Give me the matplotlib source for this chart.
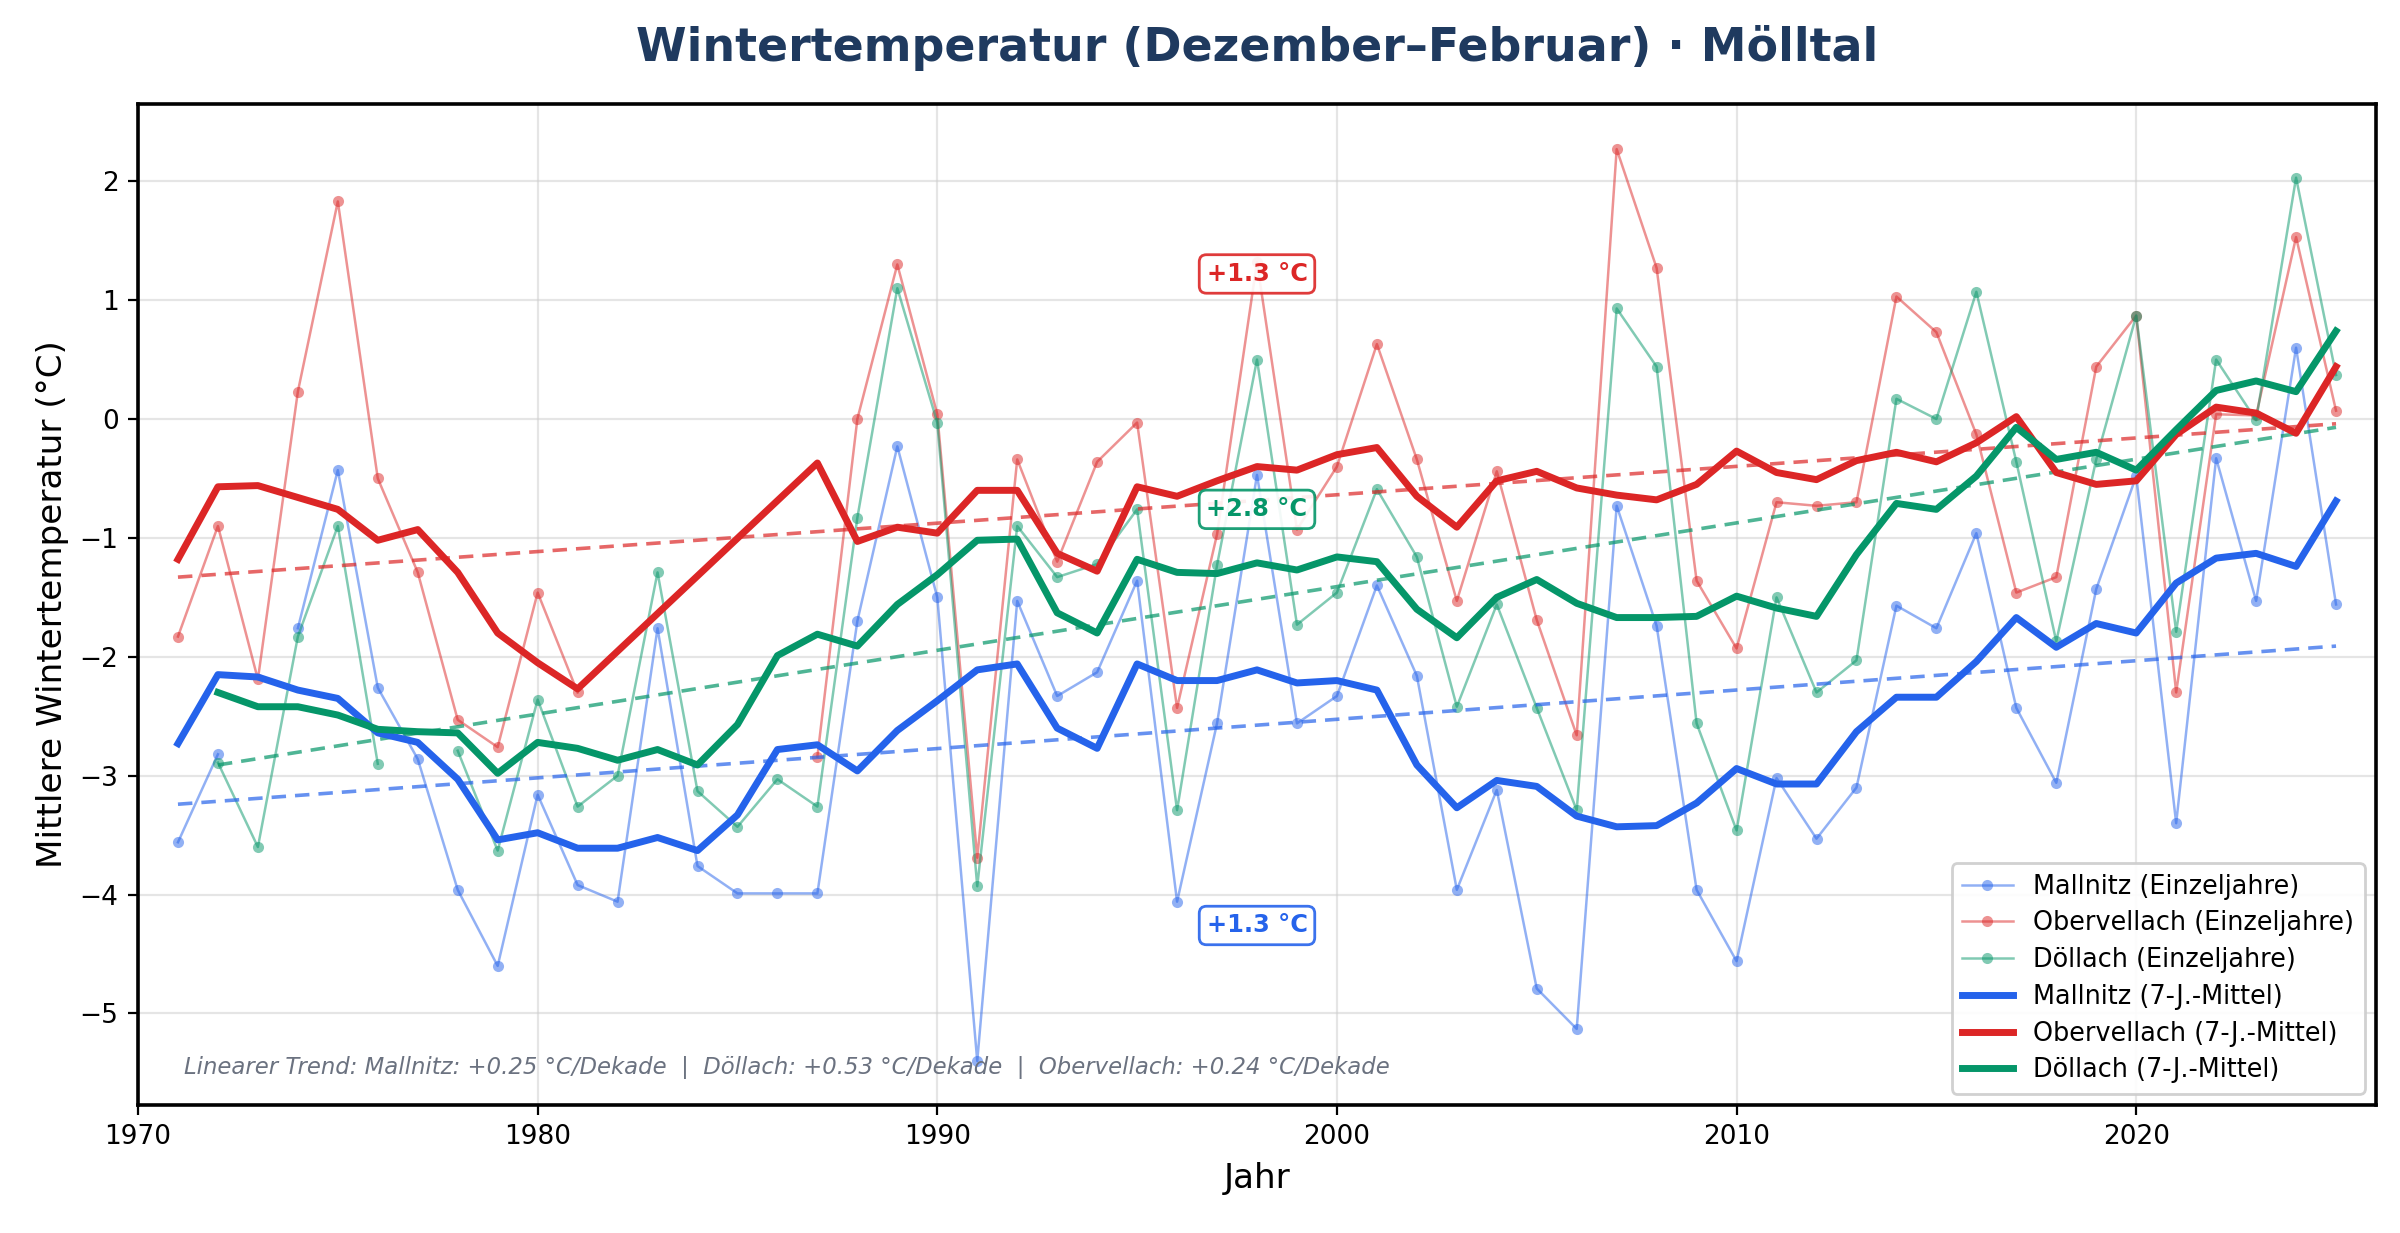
import numpy as np
import matplotlib
matplotlib.use("Agg")
import matplotlib.pyplot as plt

nan = np.nan
years = list(range(1971, 2026))

# Einzeljahre (Dez-Feb Mittel)
mallnitz = [-3.56, -2.82, nan, -1.76, -0.43, -2.26, -2.86, -3.96, -4.60, -3.16,
            -3.92, -4.06, -1.76, -3.76, -3.99, -3.99, -3.99, -1.70, -0.23, -1.50,
            -5.40, -1.53, -2.33, -2.13, -1.36, -4.06, -2.56, -0.47, -2.56, -2.33,
            -1.40, -2.16, -3.96, -3.12, -4.79, -5.13, -0.73, -1.74, -3.96, -4.56,
            -3.02, -3.53, -3.10, -1.57, -1.76, -0.96, -2.43, -3.06, -1.43, -0.48,
            -3.40, -0.33, -1.53, 0.60, -1.56]
obervellach = [-1.83, -0.90, -2.19, 0.23, 1.83, -0.50, -1.29, -2.53, -2.76, -1.46,
               -2.30, nan, nan, nan, nan, nan, -2.84, 0.00, 1.30, 0.04,
               -3.69, -0.34, -1.20, -0.36, -0.03, -2.43, -0.97, 1.32, -0.93, -0.40,
               0.63, -0.34, -1.53, -0.44, -1.69, -2.66, 2.27, 1.27, -1.36, -1.93,
               -0.70, -0.73, -0.70, 1.03, 0.73, -0.13, -1.46, -1.33, 0.44, 0.87,
               -2.30, 0.04, 0.03, 1.53, 0.07]
doellach = [nan, -2.89, -3.60, -1.83, -0.90, -2.90, nan, -2.79, -3.63, -2.36,
            -3.26, -3.00, -1.29, -3.13, -3.43, -3.03, -3.26, -0.83, 1.10, -0.03,
            -3.93, -0.90, -1.33, -1.22, -0.76, -3.29, -1.23, 0.50, -1.73, -1.46,
            -0.59, -1.16, -2.42, -1.56, -2.43, -3.29, 0.93, 0.44, -2.56, -3.46,
            -1.50, -2.30, -2.03, 0.17, 0.00, 1.07, -0.36, -1.87, -0.34, 0.87,
            -1.79, 0.50, -0.01, 2.03, 0.37]

# 7-jaehriges gleitendes Mittel
mallnitz_7j = [-2.73, -2.15, -2.17, -2.28, -2.35, -2.64, -2.72, -3.03, -3.54, -3.48,
               -3.61, -3.61, -3.52, -3.63, -3.33, -2.78, -2.74, -2.96, -2.62, -2.37,
               -2.11, -2.06, -2.60, -2.77, -2.06, -2.20, -2.20, -2.11, -2.22, -2.20,
               -2.28, -2.91, -3.27, -3.04, -3.09, -3.34, -3.43, -3.42, -3.23, -2.94,
               -3.07, -3.07, -2.63, -2.34, -2.34, -2.04, -1.67, -1.92, -1.72, -1.80,
               -1.38, -1.17, -1.13, -1.24, -0.69]
obervellach_7j = [-1.18, -0.57, -0.56, -0.66, -0.76, -1.02, -0.93, -1.29, -1.80, -2.05,
                  -2.27, nan, nan, nan, nan, nan, -0.37, -1.03, -0.91, -0.96,
                  -0.60, -0.60, -1.13, -1.28, -0.57, -0.65, -0.52, -0.40, -0.43, -0.30,
                  -0.24, -0.65, -0.91, -0.52, -0.44, -0.58, -0.64, -0.68, -0.55, -0.27,
                  -0.45, -0.51, -0.35, -0.28, -0.36, -0.20, 0.02, -0.45, -0.55, -0.52,
                  -0.13, 0.10, 0.05, -0.12, 0.44]
doellach_7j = [nan, -2.30, -2.42, -2.42, -2.49, -2.61, -2.63, -2.64, -2.98, -2.72,
               -2.77, -2.87, -2.78, -2.91, -2.57, -1.99, -1.81, -1.91, -1.56, -1.31,
               -1.02, -1.01, -1.63, -1.80, -1.18, -1.29, -1.30, -1.21, -1.27, -1.16,
               -1.20, -1.60, -1.84, -1.50, -1.35, -1.55, -1.67, -1.67, -1.66, -1.49,
               -1.59, -1.66, -1.14, -0.71, -0.76, -0.48, -0.07, -0.34, -0.28, -0.43,
               -0.09, 0.24, 0.32, 0.23, 0.74]

# Lineare Trends: (Startjahr, Endjahr), (Startwert, Endwert)
trend_years_mallnitz = [1971, 2025]
trend_mallnitz = [-3.24, -1.91]
trend_years_doellach = [1972, 2025]
trend_doellach = [-2.91, -0.07]
trend_years_obervellach = [1971, 2025]
trend_obervellach = [-1.33, -0.04]

stations = ["Mallnitz", "Obervellach", "Döllach"]
colors = {"Mallnitz": "#2563eb", "Obervellach": "#dc2626", "Döllach": "#059669"}
trend_labels = ["+1.3 °C", "+1.3 °C", "+2.8 °C"]
label_pos = {"Mallnitz": (1998, -4.26), "Obervellach": (1998, 1.22), "Döllach": (1998, -0.76)}
note = ("Linearer Trend: Mallnitz: +0.25 °C/Dekade  |  Döllach: +0.53 °C/Dekade  |  "
        "Obervellach: +0.24 °C/Dekade")

plt.rcParams['font.family'] = ['DejaVu Sans']
fig = plt.figure(figsize=(12, 6.165), dpi=200)
ax = fig.add_axes([0.0575, 0.1038, 0.99 - 0.0575, 0.9157 - 0.1038])

yrs = np.array(years)
singles = {"Mallnitz": mallnitz, "Obervellach": obervellach, "Döllach": doellach}
means = {"Mallnitz": mallnitz_7j, "Obervellach": obervellach_7j, "Döllach": doellach_7j}
trends = {"Mallnitz": (trend_years_mallnitz, trend_mallnitz),
          "Obervellach": (trend_years_obervellach, trend_obervellach),
          "Döllach": (trend_years_doellach, trend_doellach)}

handles_s = []
handles_m = []
for st in stations:
    c = colors[st]
    h, = ax.plot(yrs, np.array(singles[st], dtype=float), color=c, lw=0.9, alpha=0.5,
                 marker='o', markersize=4.0, markeredgewidth=0, label=f"{st} (Einzeljahre)", zorder=2)
    handles_s.append(h)
for st in stations:
    c = colors[st]
    tx, ty = trends[st]
    ax.plot(tx, ty, color=c, lw=1.3, ls=(0, (4, 2.5)), alpha=0.7, zorder=3)
for st in stations:
    c = colors[st]
    m = np.array(means[st], dtype=float)
    ok = ~np.isnan(m)
    h, = ax.plot(yrs[ok], m[ok], color=c, lw=2.5, label=f"{st} (7-J.-Mittel)", zorder=4)
    handles_m.append(h)

for st, lab in zip(stations, trend_labels):
    x, y = label_pos[st]
    ax.text(x, y, lab, color=colors[st], fontsize=8.7, fontweight='bold', ha='center', va='center',
            bbox=dict(boxstyle='round,pad=0.3', fc='white', ec=colors[st], lw=1.0, alpha=0.9), zorder=6)

ax.text(0.0205, 0.026, note, transform=ax.transAxes, fontsize=8.2, style='italic',
        color='#6b7280', ha='left', va='bottom', zorder=6)

ax.set_xlim(1970, 2026)
ax.set_ylim(-5.77, 2.65)
ax.set_xticks([1970, 1980, 1990, 2000, 2010, 2020])
ax.set_yticks([-5, -4, -3, -2, -1, 0, 1, 2])
ax.set_yticklabels(["−5", "−4", "−3", "−2", "−1", "0", "1", "2"])
ax.tick_params(labelsize=9.5)
ax.grid(True, color='#cccccc', alpha=0.5, lw=0.8)
ax.set_axisbelow(True)
for s in ax.spines.values():
    s.set_linewidth(1.3)

ax.set_xlabel("Jahr", fontsize=12.3)
ax.set_ylabel("Mittlere Wintertemperatur (°C)", fontsize=12.3)

fig.text(0.5237, 0.961, "Wintertemperatur (Dezember–Februar) · Mölltal", fontsize=16.5,
         fontweight='bold', color='#1f3a5f', ha='center', va='center')

leg = ax.legend(handles=handles_s + handles_m, loc='lower right', fontsize=9.2, framealpha=0.9,
                edgecolor='#cccccc', labelspacing=0.42, borderaxespad=0.45)
leg.set_zorder(7)

fig.savefig("out.png", dpi=200)
